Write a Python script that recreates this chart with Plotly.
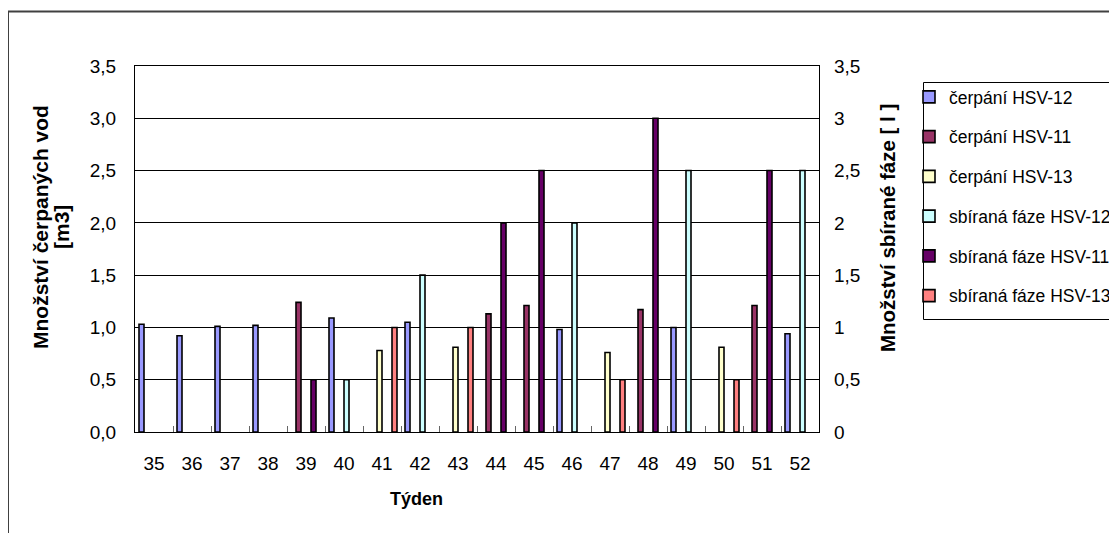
import plotly.graph_objects as go

weeks = [str(w) for w in range(35, 53)]

cerpani_hsv12 = [1.03, 0.92, 1.01, 1.02, None, 1.09, None, 1.05, None, None, None, 0.98, None, None, 1.00, None, None, 0.94]
cerpani_hsv11 = [None, None, None, None, 1.24, None, None, None, None, 1.13, 1.21, None, None, 1.17, None, None, 1.21, None]
cerpani_hsv13 = [None, None, None, None, None, None, 0.78, None, 0.81, None, None, None, 0.76, None, None, 0.81, None, None]
sbirana_hsv12 = [None, None, None, None, None, 0.5, None, 1.5, None, None, None, 2.0, None, None, 2.5, None, None, 2.5]
sbirana_hsv11 = [None, None, None, None, 0.5, None, None, None, None, 2.0, 2.5, None, None, 3.0, None, None, 2.5, None]
sbirana_hsv13 = [None, None, None, None, None, None, 1.0, None, 1.0, None, None, None, 0.5, None, None, 0.5, None, None]

series = [
    ("čerpání HSV-12", cerpani_hsv12, "#9999FF", "y"),
    ("čerpání HSV-11", cerpani_hsv11, "#993366", "y"),
    ("čerpání HSV-13", cerpani_hsv13, "#FFFFCC", "y"),
    ("sbíraná fáze HSV-12", sbirana_hsv12, "#CCFFFF", "y2"),
    ("sbíraná fáze HSV-11", sbirana_hsv11, "#660066", "y2"),
    ("sbíraná fáze HSV-13", sbirana_hsv13, "#FF8080", "y2"),
]

# page body has an 8px margin; coordinates below are screen pixels
OFF = 8
W, H = 1117 - OFF, 533 - OFF
PL, PR, PT, PB = 135, 819, 66, 432      # plot area in screen px
L, T = PL - OFF, PT - OFF
R, B = W - (PR - OFF), H - (PB - OFF)
PW, PH = W - L - R, H - T - B

def px(x):
    return (x - OFF - L) / PW

def py(y):
    return (H - B - (y - OFF)) / PH

FONT = "Liberation Sans, Arial, sans-serif"
slot = 5 / 38
start = -0.5 + 4 / 38

fig = go.Figure()
for i, (name, vals, color, yax) in enumerate(series):
    fig.add_trace(go.Bar(
        x=weeks, y=vals, name=name, yaxis=yax,
        marker=dict(color=color, line=dict(color="black", width=1.6)),
        width=slot, offset=start + i * slot,
        legendgroup=name,
    ))

fig.update_layout(
    width=W, height=H,
    margin=dict(l=L, r=R, t=T, b=B, autoexpand=False),
    paper_bgcolor="white", plot_bgcolor="white",
    separators=", ",
    font=dict(family=FONT, color="black", size=19),
    barmode="overlay",
    showlegend=True,
    legend=dict(
        x=px(909), y=py(79), xanchor="left", yanchor="top",
        font=dict(family=FONT, size=17.5, color="black"),
        bgcolor="rgba(0,0,0,0)", borderwidth=0,
        tracegroupgap=14, itemwidth=30,
    ),
    xaxis=dict(
        type="category", categoryorder="array", categoryarray=weeks,
        range=[-0.5, 17.5],
        showline=True, linecolor="black", linewidth=1, mirror=True,
        ticks="inside", tickson="boundaries", ticklen=6, tickcolor="#666666", tickwidth=1,
        showgrid=False,
        tickfont=dict(size=19), ticklabelstandoff=14,
    ),
    yaxis=dict(
        range=[0, 3.5], dtick=0.5, tick0=0, tickformat=".1f",
        showline=True, linecolor="black", linewidth=1, mirror=True,
        showgrid=True, gridcolor="black", gridwidth=1,
        ticks="", tickfont=dict(size=19), ticklabelstandoff=14,
        zeroline=False,
    ),
    yaxis2=dict(
        range=[0, 3.5], dtick=0.5, tick0=0,
        overlaying="y", side="right",
        showgrid=False, showline=False, ticks="",
        tickfont=dict(size=19), ticklabelstandoff=14,
        zeroline=False,
    ),
)

# outer chart border and legend border
fig.add_shape(type="rect", xref="paper", yref="paper",
              x0=px(8), x1=px(1140), y0=py(560), y1=py(11.5),
              line=dict(color="#404040", width=2), fillcolor="rgba(0,0,0,0)", layer="below")
fig.add_shape(type="rect", xref="paper", yref="paper",
              x0=px(923.5), x1=px(1140), y0=py(319.5), y1=py(82.5),
              line=dict(color="black", width=1), fillcolor="rgba(0,0,0,0)")

# axis titles
fig.add_annotation(xref="paper", yref="paper", x=px(40), y=py(227),
                   text="<b>Množství čerpaných vod</b>", textangle=-90,
                   showarrow=False, font=dict(family=FONT, size=21, color="black"),
                   xanchor="center", yanchor="middle")
fig.add_annotation(xref="paper", yref="paper", x=px(61), y=py(227),
                   text="<b>[m3]</b>", textangle=-90,
                   showarrow=False, font=dict(family=FONT, size=21, color="black"),
                   xanchor="center", yanchor="middle")
fig.add_annotation(xref="paper", yref="paper", x=px(887), y=py(228),
                   text="<b>Množství sbírané fáze [ l ]</b>", textangle=-90,
                   showarrow=False, font=dict(family=FONT, size=20.5, color="black"),
                   xanchor="center", yanchor="middle")
fig.add_annotation(xref="paper", yref="paper", x=px(416), y=py(499),
                   text="<b>Týden</b>", showarrow=False,
                   font=dict(family=FONT, size=18, color="black"),
                   xanchor="center", yanchor="middle")

fig.write_html("out.html")
